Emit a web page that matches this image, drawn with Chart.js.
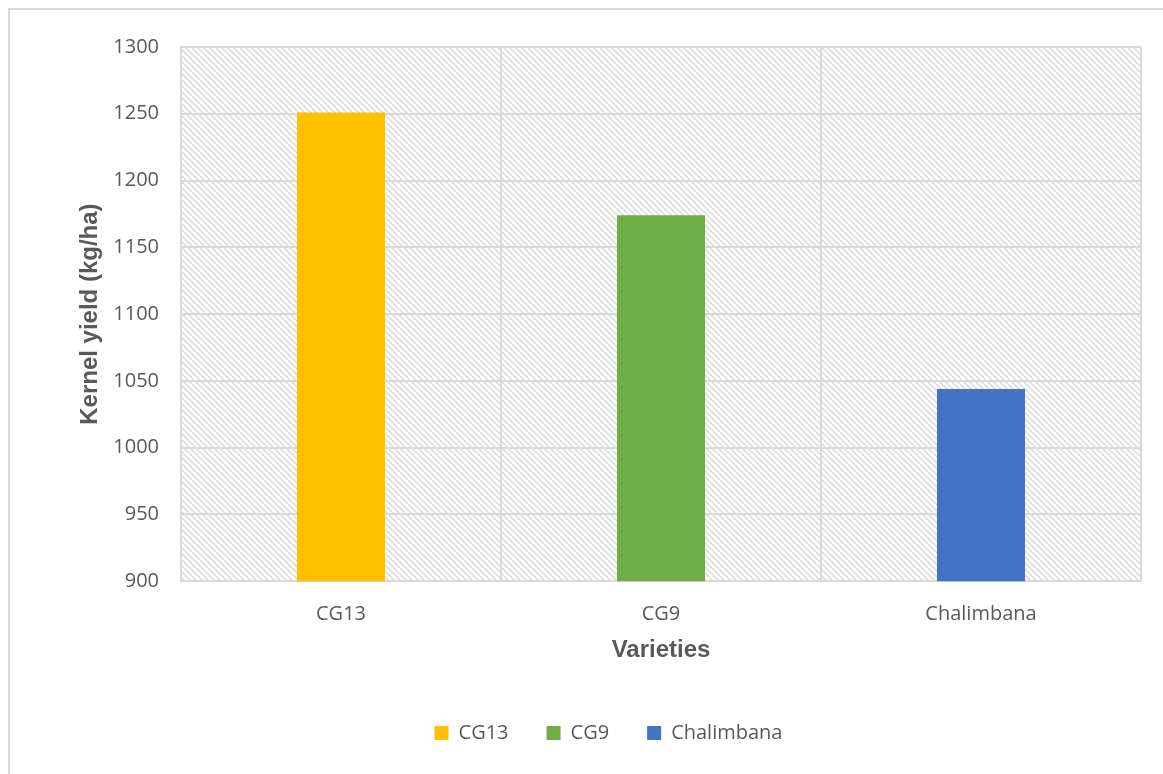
<!DOCTYPE html>
<html>
<head>
<meta charset="utf-8">
<script src="https://cdn.jsdelivr.net/npm/chart.js@4.4.0/dist/chart.umd.min.js"></script>
<style>
  html, body { margin: 0; padding: 0; background: #fff; }
  #wrap { position: relative; width: 1163px; height: 774px; }
  #frame { position: absolute; left: 8px; top: 8px; width: 1170px; height: 800px;
           border-top: 2px solid #d9d9d9; border-left: 2px solid #d9d9d9; box-sizing: border-box; }
  canvas { position: absolute; left: 0; top: 0; }
</style>
</head>
<body>
<div id="wrap">
  <div id="frame"></div>
  <canvas id="myChart" width="1163" height="774"></canvas>
</div>
<script>
// chart values
const varieties = ['CG13', 'CG9', 'Chalimbana'];
const kernelYield = [1251, 1174, 1044];
const barColors = ['#FFC000', '#70AD47', '#4472C4'];
const yTicks = [900, 950, 1000, 1050, 1100, 1150, 1200, 1250, 1300];

const tickFont = "'Open Sans', 'Liberation Sans', sans-serif";
const titleFont = "'Liberation Sans', Arial, sans-serif";

// hatched background behind the plot area
const hatchPlugin = {
    id: 'hatch',
    beforeDraw(chart) {
        const { ctx, chartArea: a } = chart;
        const tile = document.createElement('canvas');
        tile.width = 6;
        tile.height = 6;
        const t = tile.getContext('2d');
        t.strokeStyle = '#d6d6d6';
        t.lineWidth = 1.3;
        t.beginPath();
        t.moveTo(-1, -1); t.lineTo(7, 7);
        t.moveTo(-1, 5); t.lineTo(1, 7);
        t.moveTo(5, -1); t.lineTo(7, 1);
        t.stroke();
        ctx.save();
        ctx.fillStyle = ctx.createPattern(tile, 'repeat');
        ctx.fillRect(a.left, a.top, a.right - a.left, a.bottom - a.top);
        ctx.restore();
    }
};

// one dataset per variety so the legend shows all three
const datasets = varieties.map((name, i) => ({
    label: name,
    data: varieties.map((v, j) => (j === i ? kernelYield[i] : null)),
    backgroundColor: barColors[i],
    barPercentage: 0.275,
    categoryPercentage: 1,
    skipNull: true,
    grouped: false,
}));

const ctx = document.getElementById('myChart').getContext('2d');
new Chart(ctx, {
    type: 'bar',
    data: { labels: varieties, datasets },
    plugins: [hatchPlugin],
    options: {
        responsive: false,
        animation: false,
        layout: { padding: { left: 76, right: 22, top: 47, bottom: 21 } },
        plugins: {
            tooltip: { enabled: false },
            legend: {
                position: 'bottom',
                labels: {
                    boxWidth: 14,
                    boxHeight: 14,
                    padding: 38,
                    color: '#595959',
                    font: { family: tickFont, size: 20 },
                },
            },
        },
        scales: {
            x: {
                grid: { color: '#d9d9d9', lineWidth: 2, offset: true, drawTicks: false },
                border: { color: '#d9d9d9', width: 2 },
                ticks: { color: '#595959', padding: 21, font: { family: tickFont, size: 20 } },
                title: {
                    display: true,
                    text: 'Varieties',
                    color: '#595959',
                    padding: { top: -11, bottom: 20 },
                    font: { family: titleFont, size: 24, weight: 'bold' },
                },
            },
            y: {
                min: 900,
                max: 1300,
                afterBuildTicks(scale) {
                    scale.ticks = yTicks.map(v => ({ value: v }));
                },
                afterFit(scale) {
                    scale.width = 105;
                },
                grid: { color: '#d9d9d9', lineWidth: 2, drawTicks: false },
                border: { color: '#d9d9d9', width: 2 },
                ticks: {
                    color: '#595959',
                    padding: 22,
                    font: { family: tickFont, size: 20 },
                    callback: v => String(v),
                },
                title: {
                    display: true,
                    text: 'Kernel yield (kg/ha)',
                    color: '#595959',
                    padding: { top: 0, bottom: 10 },
                    font: { family: titleFont, size: 24, weight: 'bold' },
                },
            },
        },
    },
});
</script>
</body>
</html>
